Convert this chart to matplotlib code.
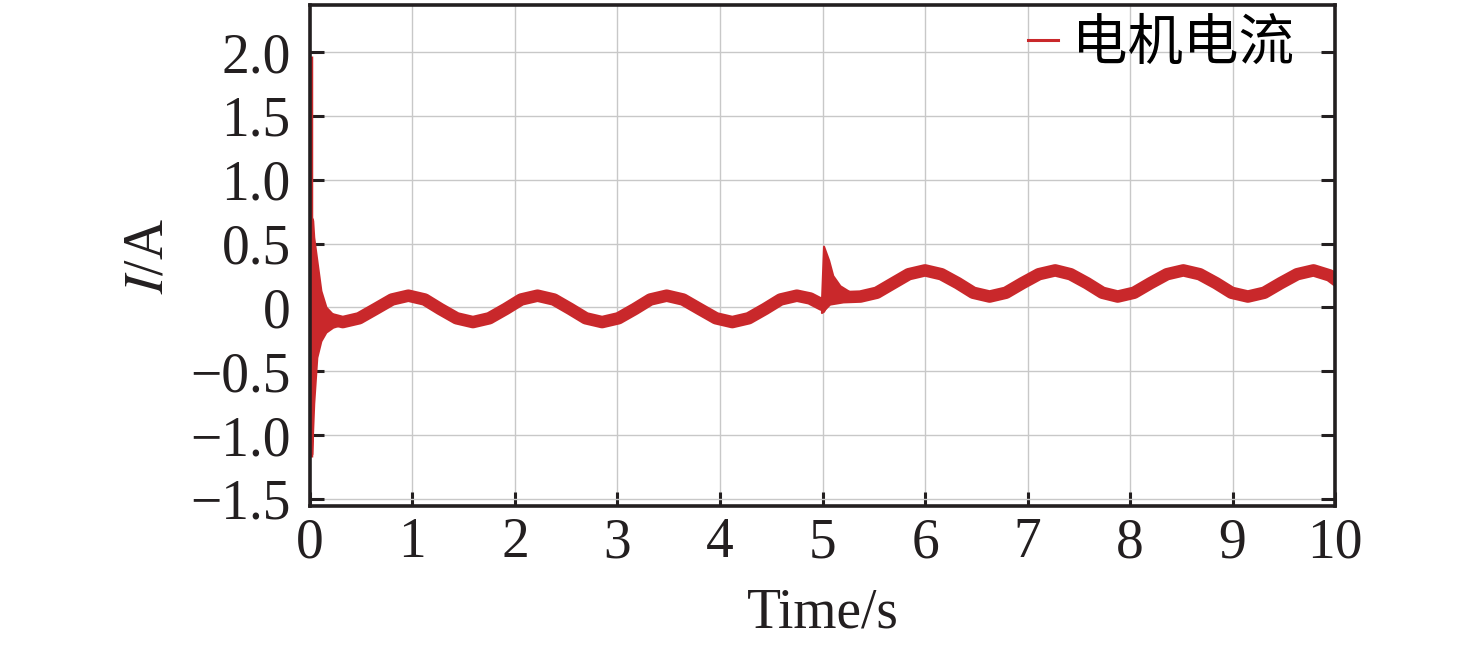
import numpy as np
import matplotlib
matplotlib.use("Agg")
import matplotlib.pyplot as plt

plt.rcParams["font.family"] = ["Liberation Serif", "Noto Sans CJK SC", "DejaVu Sans"]
plt.rcParams["mathtext.fontset"] = "stix"

# Données lues sur la figure
# ligne centrale du courant (hors transitoires)
t_mid = [0.20, 0.32, 0.48, 0.64, 0.80, 0.96, 1.12, 1.27, 1.43, 1.59, 1.75, 1.91,
         2.06, 2.22, 2.38, 2.54, 2.69, 2.85, 3.01, 3.17, 3.32, 3.48, 3.64, 3.80,
         3.96, 4.12, 4.28, 4.44, 4.59, 4.75, 4.88, 5.00, 5.05, 5.20, 5.37, 5.53,
         5.69, 5.84, 6.00, 6.16, 6.32, 6.47, 6.63, 6.79, 6.95, 7.11, 7.27, 7.42,
         7.58, 7.73, 7.88, 8.04, 8.20, 8.36, 8.52, 8.68, 8.84, 8.99, 9.15, 9.31,
         9.47, 9.63, 9.79, 9.95, 10.0]
i_mid = [-0.09, -0.115, -0.085, -0.012, 0.062, 0.092, 0.062, -0.012, -0.085, -0.115, -0.085, -0.012,
         0.062, 0.092, 0.062, -0.012, -0.085, -0.115, -0.085, -0.012, 0.062, 0.092, 0.062, -0.012,
         -0.085, -0.115, -0.085, -0.012, 0.062, 0.092, 0.070, 0.020, 0.060, 0.080, 0.085, 0.115,
         0.19, 0.26, 0.29, 0.26, 0.19, 0.115, 0.085, 0.115, 0.19, 0.26, 0.29, 0.26,
         0.19, 0.115, 0.085, 0.115, 0.19, 0.26, 0.29, 0.26, 0.19, 0.115, 0.085, 0.115,
         0.19, 0.26, 0.29, 0.25, 0.22]

# pic initial (trait fin à t ~ 0)
t_pic = [0.012, 0.012]
i_pic = [-1.17, 1.97]

# enveloppe du transitoire au démarrage
t_env0 = [0.01, 0.02, 0.03, 0.06, 0.10, 0.15, 0.22, 0.30]
haut0 = [0.70, 0.68, 0.55, 0.37, 0.13, 0.0, -0.06, -0.09]
bas0 = [-1.15, -0.95, -0.75, -0.39, -0.26, -0.19, -0.15, -0.13]

# enveloppe du transitoire à t = 5 s
t_env5 = [4.99, 5.01, 5.06, 5.10, 5.17, 5.27, 5.35]
haut5 = [0.05, 0.48, 0.37, 0.25, 0.17, 0.12, 0.10]
bas5 = [-0.04, -0.03, 0.04, 0.055, 0.06, 0.065, 0.065]

yticks = [-1.5, -1.0, -0.5, 0, 0.5, 1.0, 1.5, 2.0]
ylabels = ["\u22121.5", "\u22121.0", "\u22120.5", "0", "0.5", "1.0", "1.5", "2.0"]
xticks = [0, 1, 2, 3, 4, 5, 6, 7, 8, 9, 10]

rouge = "#c9282b"
fs = 40

fig = plt.figure(figsize=(14.76, 6.52), dpi=100)
ax = fig.add_axes([0.210, 0.224, 0.6945, 0.768])

ax.fill_between(t_env0, bas0, haut0, color=rouge, lw=2.5)
ax.fill_between(t_env5, bas5, haut5, color=rouge, lw=1.5)
ax.plot(t_pic, i_pic, color=rouge, lw=2.5, solid_capstyle="butt")
ax.plot(t_mid, i_mid, color=rouge, lw=9, solid_joinstyle="round", label="电机电流")

ax.set_xlim(0, 10)
ax.set_ylim(-1.555, 2.367)
ax.set_xticks(xticks)
ax.set_yticks(yticks, ylabels)
ax.grid(True, color="#c8c8c8", lw=1.0)
ax.set_axisbelow(True)

ax.tick_params(axis="both", direction="in", length=10, width=2.2, labelsize=fs,
               right=True, colors="#231f20")
ax.tick_params(axis="y", pad=14)
ax.tick_params(axis="x", pad=8)
for s in ax.spines.values():
    s.set_linewidth(2.6)
    s.set_color("#231f20")

ax.set_xlabel("Time/s", fontsize=fs, labelpad=13, color="#231f20")
ax.set_ylabel("$\\mathit{I}$/A", fontsize=fs, labelpad=11.5, color="#231f20")

leg = ax.legend(loc="upper right", bbox_to_anchor=(1.009, 1.08), frameon=False,
                handlelength=0.55, handletextpad=0.25,
                prop={"family": ["Noto Sans CJK SC"], "size": fs})
for h in leg.get_lines():
    h.set_linewidth(2.2)

fig.savefig("out.png", dpi=100)
